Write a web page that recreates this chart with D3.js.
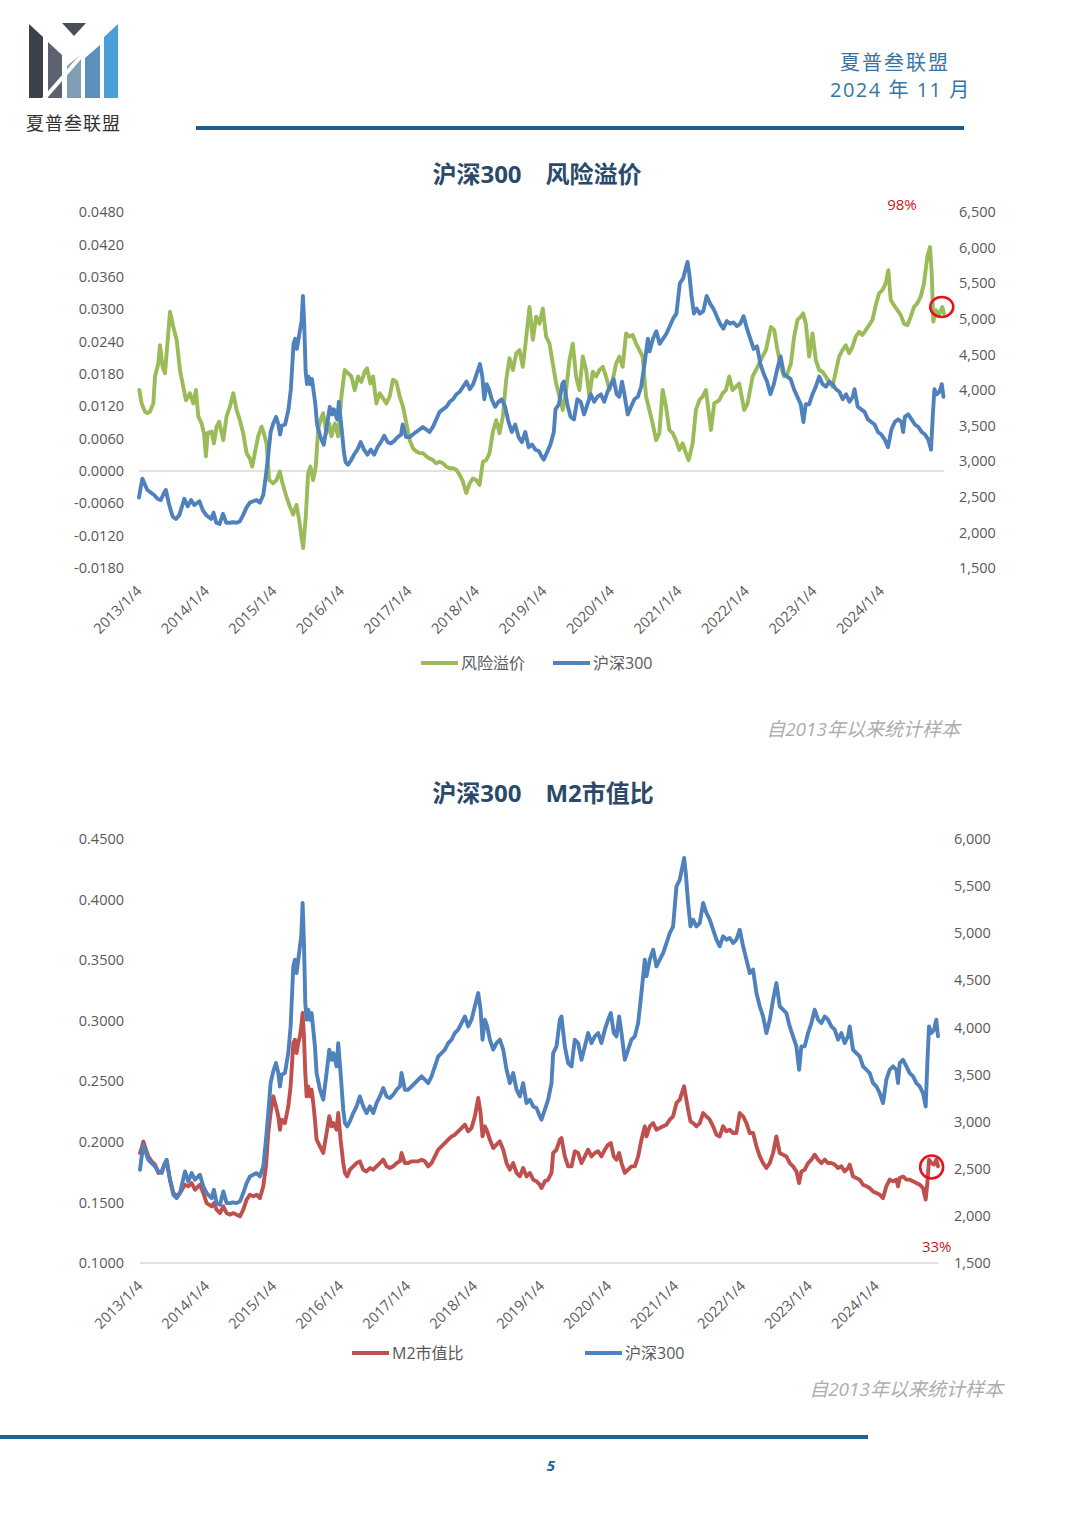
<!DOCTYPE html>
<html><head><meta charset="utf-8">
<script src="https://cdn.jsdelivr.net/npm/d3@7"></script>
<style>
html,body{margin:0;padding:0;background:#fff;}
svg{display:block;}
text{font-family:"Open Sans","Noto Sans CJK SC",sans-serif;}
</style></head><body>
<svg id="page" width="1080" height="1528"></svg>
<script>
// ---------------- DATA ----------------
const xTickYears = [2013.01,2014.01,2015.01,2016.01,2017.01,2018.01,2019.01,2020.01,2021.01,2022.01,2023.01,2024.01];
const xTickLabels = ["2013/1/4","2014/1/4","2015/1/4","2016/1/4","2017/1/4","2018/1/4","2019/1/4","2020/1/4","2021/1/4","2022/1/4","2023/1/4","2024/1/4"];

const premiumTicks = [-0.018,-0.012,-0.006,0,0.006,0.012,0.018,0.024,0.030,0.036,0.042,0.048];
const hsTicksTop = [1500,2000,2500,3000,3500,4000,4500,5000,5500,6000,6500];
const m2Ticks = [0.10,0.15,0.20,0.25,0.30,0.35,0.40,0.45];
const hsTicksBottom = [1500,2000,2500,3000,3500,4000,4500,5000,5500,6000];

// 风险溢价 (decimal year, value)
const premiumYears = [2013.015,2013.049,2013.099,2013.133,2013.173,2013.222,2013.247,2013.296,2013.321,2013.360,2013.395,2013.419,2013.469,2013.518,2013.567,2013.617,2013.666,2013.705,2013.764,2013.814,2013.853,2013.888,2013.937,2013.972,2014.001,2014.026,2014.085,2014.119,2014.159,2014.198,2014.258,2014.307,2014.356,2014.406,2014.455,2014.504,2014.553,2014.603,2014.652,2014.687,2014.726,2014.775,2014.825,2014.859,2014.899,2014.938,2014.997,2015.046,2015.096,2015.135,2015.194,2015.244,2015.293,2015.342,2015.382,2015.416,2015.441,2015.480,2015.515,2015.549,2015.589,2015.628,2015.663,2015.697,2015.737,2015.786,2015.826,2015.860,2015.909,2015.959,2016.008,2016.057,2016.107,2016.156,2016.205,2016.255,2016.304,2016.353,2016.388,2016.437,2016.477,2016.526,2016.575,2016.624,2016.674,2016.723,2016.772,2016.822,2016.871,2016.920,2016.970,2017.019,2017.068,2017.118,2017.167,2017.216,2017.266,2017.315,2017.364,2017.413,2017.463,2017.512,2017.561,2017.611,2017.660,2017.709,2017.759,2017.808,2017.857,2017.907,2017.956,2018.005,2018.054,2018.104,2018.153,2018.202,2018.252,2018.301,2018.350,2018.399,2018.449,2018.498,2018.547,2018.597,2018.646,2018.695,2018.735,2018.794,2018.843,2018.892,2018.942,2018.991,2019.040,2019.090,2019.139,2019.188,2019.238,2019.287,2019.336,2019.386,2019.435,2019.484,2019.533,2019.583,2019.632,2019.681,2019.731,2019.780,2019.829,2019.879,2019.928,2019.977,2020.027,2020.076,2020.125,2020.174,2020.224,2020.273,2020.322,2020.372,2020.421,2020.470,2020.520,2020.569,2020.618,2020.668,2020.717,2020.766,2020.816,2020.865,2020.914,2020.963,2021.013,2021.062,2021.111,2021.151,2021.210,2021.259,2021.309,2021.358,2021.407,2021.481,2021.530,2021.604,2021.654,2021.703,2021.752,2021.802,2021.851,2021.900,2021.974,2022.024,2022.098,2022.172,2022.245,2022.295,2022.369,2022.418,2022.467,2022.517,2022.566,2022.615,2022.665,2022.714,2022.763,2022.813,2022.847,2022.887,2022.936,2022.985,2023.034,2023.084,2023.133,2023.182,2023.232,2023.281,2023.330,2023.380,2023.429,2023.478,2023.528,2023.577,2023.626,2023.676,2023.725,2023.774,2023.823,2023.873,2023.922,2023.971,2024.021,2024.070,2024.109,2024.144,2024.193,2024.243,2024.292,2024.341,2024.391,2024.440,2024.489,2024.539,2024.588,2024.637,2024.686,2024.726,2024.751,2024.775,2024.810,2024.859,2024.908,2024.933];
const riskPremium = [0.0150,0.0125,0.0110,0.0107,0.0110,0.0125,0.0175,0.0199,0.0233,0.0193,0.0181,0.0218,0.0295,0.0267,0.0243,0.0187,0.0156,0.0131,0.0144,0.0125,0.0150,0.0101,0.0088,0.0070,0.0027,0.0070,0.0073,0.0051,0.0082,0.0091,0.0057,0.0101,0.0119,0.0144,0.0113,0.0094,0.0070,0.0033,0.0023,0.0008,0.0033,0.0064,0.0082,0.0070,0.0051,-0.0017,-0.0023,-0.0017,-0.0001,-0.0023,-0.0048,-0.0066,-0.0081,-0.0063,-0.0091,-0.0122,-0.0143,-0.0085,-0.0004,0.0008,-0.0017,0.0008,0.0076,0.0094,0.0107,0.0070,0.0088,0.0064,0.0088,0.0064,0.0138,0.0187,0.0181,0.0175,0.0150,0.0175,0.0165,0.0184,0.0190,0.0162,0.0175,0.0125,0.0144,0.0135,0.0125,0.0138,0.0169,0.0165,0.0138,0.0119,0.0088,0.0057,0.0042,0.0036,0.0033,0.0033,0.0027,0.0023,0.0020,0.0014,0.0017,0.0014,0.0008,0.0005,0.0005,0.0002,-0.0007,-0.0020,-0.0041,-0.0023,-0.0014,-0.0017,-0.0026,0.0017,0.0020,0.0033,0.0073,0.0094,0.0070,0.0101,0.0169,0.0209,0.0187,0.0218,0.0224,0.0193,0.0236,0.0304,0.0243,0.0286,0.0273,0.0301,0.0249,0.0236,0.0199,0.0162,0.0138,0.0113,0.0150,0.0206,0.0236,0.0175,0.0150,0.0212,0.0187,0.0138,0.0184,0.0175,0.0187,0.0193,0.0175,0.0150,0.0169,0.0199,0.0212,0.0193,0.0255,0.0249,0.0252,0.0236,0.0224,0.0212,0.0138,0.0113,0.0088,0.0057,0.0070,0.0150,0.0119,0.0076,0.0070,0.0057,0.0039,0.0051,0.0033,0.0020,0.0051,0.0113,0.0131,0.0138,0.0150,0.0076,0.0125,0.0131,0.0144,0.0150,0.0175,0.0150,0.0156,0.0162,0.0113,0.0125,0.0175,0.0193,0.0212,0.0224,0.0267,0.0261,0.0224,0.0193,0.0175,0.0181,0.0199,0.0249,0.0280,0.0286,0.0292,0.0273,0.0212,0.0255,0.0206,0.0187,0.0184,0.0175,0.0165,0.0156,0.0184,0.0212,0.0224,0.0233,0.0218,0.0230,0.0249,0.0258,0.0252,0.0261,0.0270,0.0280,0.0307,0.0329,0.0335,0.0348,0.0372,0.0317,0.0307,0.0298,0.0289,0.0273,0.0270,0.0286,0.0304,0.0311,0.0323,0.0348,0.0397,0.0415,0.0366,0.0277,0.0298,0.0289,0.0304,0.0292];

// 沪深300 and M2市值比 (shared decimal-year dates)
const hsYears = [2013.010,2013.035,2013.060,2013.100,2013.134,2013.184,2013.234,2013.284,2013.333,2013.383,2013.408,2013.458,2013.508,2013.557,2013.607,2013.682,2013.731,2013.781,2013.831,2013.905,2013.955,2014.005,2014.080,2014.114,2014.154,2014.204,2014.254,2014.303,2014.353,2014.403,2014.453,2014.503,2014.552,2014.602,2014.652,2014.701,2014.751,2014.801,2014.851,2014.891,2014.925,2014.960,2015.000,2015.040,2015.075,2015.100,2015.124,2015.174,2015.224,2015.259,2015.299,2015.323,2015.348,2015.373,2015.398,2015.418,2015.438,2015.458,2015.478,2015.498,2015.522,2015.547,2015.572,2015.597,2015.622,2015.647,2015.697,2015.746,2015.796,2015.836,2015.871,2015.896,2015.945,2015.970,2016.005,2016.045,2016.070,2016.104,2016.144,2016.194,2016.244,2016.293,2016.343,2016.393,2016.443,2016.493,2016.542,2016.592,2016.642,2016.692,2016.741,2016.791,2016.841,2016.891,2016.915,2016.965,2017.015,2017.065,2017.114,2017.164,2017.214,2017.264,2017.313,2017.363,2017.413,2017.463,2017.512,2017.562,2017.612,2017.662,2017.711,2017.761,2017.811,2017.861,2017.910,2017.960,2018.010,2018.060,2018.095,2018.124,2018.159,2018.194,2018.234,2018.284,2018.333,2018.383,2018.433,2018.483,2018.532,2018.582,2018.632,2018.682,2018.731,2018.781,2018.831,2018.881,2018.930,2018.980,2019.005,2019.055,2019.104,2019.154,2019.179,2019.229,2019.279,2019.303,2019.353,2019.403,2019.453,2019.502,2019.552,2019.602,2019.652,2019.701,2019.751,2019.801,2019.851,2019.900,2019.950,2020.000,2020.040,2020.084,2020.124,2020.164,2020.199,2020.249,2020.298,2020.348,2020.398,2020.448,2020.497,2020.547,2020.572,2020.622,2020.672,2020.721,2020.771,2020.821,2020.871,2020.920,2020.970,2021.020,2021.070,2021.109,2021.134,2021.159,2021.194,2021.229,2021.269,2021.318,2021.368,2021.418,2021.468,2021.517,2021.567,2021.617,2021.666,2021.716,2021.766,2021.816,2021.866,2021.915,2021.965,2022.015,2022.065,2022.114,2022.164,2022.214,2022.264,2022.313,2022.363,2022.413,2022.463,2022.512,2022.562,2022.612,2022.661,2022.711,2022.761,2022.811,2022.851,2022.885,2022.935,2022.985,2023.035,2023.084,2023.134,2023.184,2023.234,2023.283,2023.333,2023.383,2023.433,2023.482,2023.532,2023.582,2023.607,2023.656,2023.706,2023.756,2023.806,2023.856,2023.905,2023.955,2024.005,2024.055,2024.104,2024.154,2024.204,2024.254,2024.303,2024.328,2024.353,2024.403,2024.453,2024.502,2024.552,2024.602,2024.652,2024.701,2024.741,2024.766,2024.791,2024.826,2024.866,2024.900,2024.925];
const hs300 = [2490,2630,2755,2667,2596,2560,2525,2472,2454,2560,2596,2384,2224,2189,2242,2472,2366,2454,2384,2437,2313,2242,2189,2277,2136,2118,2260,2136,2136,2143,2136,2154,2242,2348,2419,2437,2454,2419,2525,2808,3091,3410,3534,3622,3516,3374,3498,3516,3728,4011,4648,4719,4577,4719,4861,4967,5321,4896,4259,4082,4188,4082,4153,3976,3799,3516,3339,3233,3516,3764,3657,3728,3587,3834,3516,3127,2985,2950,3003,3091,3162,3268,3162,3091,3162,3091,3197,3268,3357,3268,3250,3286,3339,3374,3516,3339,3339,3374,3410,3445,3481,3445,3410,3481,3587,3693,3728,3764,3834,3870,3941,3976,4047,4117,4011,4082,4224,4365,4188,3870,4082,4011,3870,3764,3834,3870,3764,3551,3410,3516,3339,3268,3410,3197,3233,3162,3144,3056,3021,3127,3233,3410,3728,3799,4082,4117,3799,3622,3587,3870,3834,3657,3799,3941,3834,3905,3941,3834,3976,4082,4153,3941,3905,4117,3941,3657,3764,3870,3905,4047,4365,4719,4542,4719,4825,4648,4719,4790,4896,5002,5073,5498,5568,5710,5798,5639,5321,5073,5144,5073,5108,5321,5214,5144,5037,4931,4861,4967,4931,4949,4896,4931,5037,4861,4719,4577,4613,4365,4224,4117,3941,4082,4294,4471,4224,4188,4153,4011,3905,3799,3551,3799,3799,3941,4047,4188,4082,4047,4117,4082,4011,3976,3870,3941,3834,3905,4011,3764,3728,3693,3587,3551,3516,3410,3374,3304,3197,3445,3551,3587,3551,3410,3622,3657,3587,3516,3481,3410,3374,3304,3162,3622,4011,3941,3976,4082,3905];
const m2Ratio = [0.1908,0.1949,0.2004,0.1935,0.1880,0.1839,0.1812,0.1743,0.1756,0.1825,0.1839,0.1688,0.1578,0.1550,0.1578,0.1646,0.1633,0.1660,0.1605,0.1646,0.1578,0.1495,0.1468,0.1495,0.1440,0.1412,0.1468,0.1412,0.1399,0.1412,0.1399,0.1385,0.1440,0.1523,0.1564,0.1550,0.1564,0.1536,0.1633,0.1798,0.2073,0.2238,0.2376,0.2293,0.2211,0.2100,0.2183,0.2155,0.2293,0.2458,0.2816,0.2843,0.2733,0.2816,0.2871,0.2954,0.3064,0.2871,0.2568,0.2376,0.2458,0.2376,0.2431,0.2321,0.2183,0.2018,0.1963,0.1908,0.2073,0.2211,0.2128,0.2155,0.2100,0.2238,0.2018,0.1825,0.1743,0.1715,0.1770,0.1798,0.1825,0.1839,0.1770,0.1756,0.1784,0.1770,0.1798,0.1825,0.1853,0.1798,0.1784,0.1798,0.1825,0.1839,0.1908,0.1825,0.1825,0.1839,0.1839,0.1839,0.1853,0.1839,0.1798,0.1825,0.1880,0.1935,0.1963,0.1990,0.2018,0.2045,0.2059,0.2087,0.2114,0.2142,0.2087,0.2114,0.2211,0.2362,0.2238,0.2045,0.2128,0.2087,0.2018,0.1949,0.1977,0.2004,0.1935,0.1825,0.1770,0.1825,0.1743,0.1715,0.1784,0.1715,0.1743,0.1688,0.1674,0.1646,0.1619,0.1674,0.1688,0.1743,0.1908,0.1935,0.2018,0.2032,0.1880,0.1798,0.1798,0.1922,0.1908,0.1825,0.1880,0.1935,0.1880,0.1908,0.1922,0.1880,0.1935,0.1977,0.1990,0.1880,0.1853,0.1908,0.1825,0.1743,0.1770,0.1798,0.1798,0.1880,0.2018,0.2128,0.2045,0.2128,0.2155,0.2100,0.2114,0.2128,0.2142,0.2183,0.2211,0.2321,0.2348,0.2417,0.2458,0.2376,0.2266,0.2169,0.2155,0.2128,0.2155,0.2238,0.2211,0.2183,0.2128,0.2059,0.2045,0.2128,0.2087,0.2100,0.2073,0.2073,0.2238,0.2211,0.2155,0.2073,0.2073,0.1963,0.1880,0.1825,0.1784,0.1825,0.1908,0.2045,0.1908,0.1894,0.1880,0.1825,0.1798,0.1756,0.1660,0.1756,0.1770,0.1825,0.1853,0.1894,0.1853,0.1825,0.1853,0.1825,0.1825,0.1812,0.1784,0.1798,0.1756,0.1784,0.1812,0.1715,0.1701,0.1688,0.1646,0.1633,0.1619,0.1591,0.1578,0.1564,0.1536,0.1633,0.1688,0.1674,0.1688,0.1633,0.1701,0.1715,0.1688,0.1688,0.1674,0.1660,0.1646,0.1619,0.1523,0.1660,0.1853,0.1825,0.1812,0.1853,0.1798];

// annotations (data coordinates)
const premiumMark = { year: 2024.90, value: 0.0304, label: "98%", labelYear: 2024.31, labelValue: 0.0493 };
const m2Mark = { year: 2024.83, value: 0.1792, label: "33%", labelYear: 2024.905, labelValue: 0.1132 };

// ---------------- DRAWING ----------------
const svg = d3.select("#page");
const loc = d3.formatLocale({decimal:".", thousands:",", grouping:[3], currency:["",""], minus:"-"});
const fmt4 = loc.format(".4f"), fmtK = loc.format(",");
const GRAY = "#595959";

svg.append("rect").attr("width",1080).attr("height",1528).attr("fill","#fff");

// ---- header / logo ----
const logo = svg.append("g");
const logoShapes = [
  {pts:[[29,24],[43,37],[43,98],[29,98]], fill:"#3c404b"},
  {pts:[[48,42],[62,55],[62,98],[48,98]], fill:"#5c6270"},
  {pts:[[62,23],[86,23],[74,36]], fill:"#4a4e59"},
  {pts:[[67,66],[81,54],[81,98],[67,98]], fill:"#7f9db4"},
  {pts:[[85,58],[100,45],[100,98],[85,98]], fill:"#5d8fbb"},
  {pts:[[104,37],[118,24],[118,98],[104,98]], fill:"#4a9fd9"}
];
logo.selectAll("polygon").data(logoShapes).join("polygon")
  .attr("points", d => d.pts.map(p => p.join(",")).join(" "))
  .attr("fill", d => d.fill);
logo.append("line").attr("x1",42).attr("y1",101).attr("x2",104).attr("y2",30)
  .attr("stroke","#fff").attr("stroke-width",4);
logo.append("text").attr("x",26).attr("y",130).attr("font-size",18).attr("letter-spacing",1)
  .attr("fill","#333").attr("font-family","Noto Sans CJK SC").text("夏普叁联盟");

svg.append("text").attr("x",840).attr("y",70).attr("font-size",20).attr("letter-spacing",2)
  .attr("fill","#3575a3").attr("font-family","Noto Sans CJK SC").text("夏普叁联盟");
svg.append("text").attr("x",830).attr("y",97).attr("font-size",20).attr("letter-spacing",1.5)
  .attr("fill","#3575a3").text("2024 年 11 月");
svg.append("line").attr("x1",196).attr("x2",964).attr("y1",128).attr("y2",128)
  .attr("stroke","#1e5d8c").attr("stroke-width",4);

// ---- footer ----
svg.append("line").attr("x1",0).attr("x2",868).attr("y1",1437).attr("y2",1437)
  .attr("stroke","#1f6591").attr("stroke-width",4);
svg.append("text").attr("x",551).attr("y",1471).attr("text-anchor","middle").attr("font-size",15)
  .attr("font-weight","bold").attr("font-style","italic").attr("fill","#1f6591").text("5");

// ---- chart builder ----
function drawChart(c) {
  const allYears = c.series.flatMap(s => s.years);
  const x = d3.scaleLinear().domain(d3.extent(allYears)).range(c.xRange);
  const yL = d3.scaleLinear().domain(c.leftDomain).range([c.bottom, c.top]);
  const yR = d3.scaleLinear().domain(c.rightDomain).range([c.bottom, c.top]);
  const g = svg.append("g");

  // title
  g.append("text").attr("x", c.titleX).attr("y", c.titleY).attr("text-anchor","middle")
    .attr("font-size",24).attr("font-weight","bold").attr("fill","#2b4a6a")
    .attr("font-family","Noto Sans CJK SC").text(c.title);

  // baseline
  g.append("line").attr("x1", c.xRange[0]).attr("x2", c.xRange[1])
    .attr("y1", yL(c.baseValue)).attr("y2", yL(c.baseValue))
    .attr("stroke","#d9d9d9").attr("stroke-width",1.5);

  // left axis
  const axL = g.append("g").attr("transform",`translate(${c.leftLabelX},0)`)
    .call(d3.axisLeft(yL).tickValues(c.leftTicks).tickFormat(fmt4).tickSize(0).tickPadding(0));
  // right axis
  const axR = g.append("g").attr("transform",`translate(${c.rightLabelX},0)`)
    .call(d3.axisRight(yR).tickValues(c.rightTicks).tickFormat(fmtK).tickSize(0).tickPadding(0));
  // x axis labels
  const axX = g.append("g").attr("transform",`translate(0,${c.xLabelY})`)
    .call(d3.axisBottom(x).tickValues(xTickYears).tickFormat((d,i) => xTickLabels[i]).tickSize(0).tickPadding(0));
  axX.selectAll(".tick text").attr("text-anchor","end").attr("dy",0).attr("y",0)
    .attr("transform","translate(3,0) rotate(-45)").attr("font-size",14.5);
  [axL, axR, axX].forEach(a => {
    a.select(".domain").remove();
    a.attr("font-family",null);
    a.selectAll("text").attr("fill",GRAY);
  });
  axL.selectAll("text").attr("font-size",14.5);
  axR.selectAll("text").attr("font-size",14.5);

  // series
  c.series.forEach(s => {
    const y = s.axis === "left" ? yL : yR;
    const line = d3.line().x(d => x(d[0])).y(d => y(d[1]));
    g.append("path").datum(d3.zip(s.years, s.values))
      .attr("d", line).attr("fill","none").attr("stroke", s.color)
      .attr("stroke-width",3.9).attr("stroke-linejoin","round").attr("stroke-linecap","round");
  });

  // annotation
  const m = c.mark;
  g.append("ellipse").attr("cx", x(m.year)).attr("cy", yL(m.value)).attr("rx", c.markR[0]).attr("ry", c.markR[1])
    .attr("fill","none").attr("stroke","#e3141b").attr("stroke-width",2.6);
  g.append("text").attr("x", x(m.labelYear)).attr("y", yL(m.labelValue)).attr("dy","0.35em")
    .attr("text-anchor","middle").attr("font-size",15).attr("fill","#c8161d").text(m.label);

  // legend
  c.legend.forEach(l => {
    g.append("line").attr("x1", l.x).attr("x2", l.x + 37).attr("y1", c.legendY).attr("y2", c.legendY)
      .attr("stroke", l.color).attr("stroke-width",4);
    g.append("text").attr("x", l.x + 40).attr("y", c.legendY).attr("dy","0.36em")
      .attr("font-size",16).attr("fill",GRAY).text(l.name);
  });

  // note
  g.append("text").attr("x", c.noteX).attr("y", c.noteY).attr("text-anchor","end")
    .attr("font-size",19).attr("font-style","italic").attr("fill","#adadad").text("自2013年以来统计样本");
}

drawChart({
  title: "沪深300\u3000风险溢价", titleX: 537, titleY: 183,
  top: 212, bottom: 568, xRange: [139, 944],
  leftDomain: [-0.018, 0.048], rightDomain: [1500, 6500],
  leftTicks: premiumTicks, rightTicks: hsTicksTop, baseValue: 0,
  leftLabelX: 124, rightLabelX: 959, xLabelY: 592,
  series: [
    {years: premiumYears, values: riskPremium, axis: "left", color: "#9bbb59"},
    {years: hsYears, values: hs300, axis: "right", color: "#4f81bd"}
  ],
  mark: premiumMark, markR: [11.5, 10],
  legendY: 663,
  legend: [{name:"风险溢价", color:"#9bbb59", x:421}, {name:"沪深300", color:"#4f81bd", x:553}],
  noteX: 960, noteY: 736
});

drawChart({
  title: "沪深300\u3000M2市值比", titleX: 543, titleY: 802,
  top: 839, bottom: 1263, xRange: [140, 938],
  leftDomain: [0.10, 0.45], rightDomain: [1500, 6000],
  leftTicks: m2Ticks, rightTicks: hsTicksBottom, baseValue: 0.10,
  leftLabelX: 124, rightLabelX: 954, xLabelY: 1287,
  series: [
    {years: hsYears, values: m2Ratio, axis: "left", color: "#c0504d"},
    {years: hsYears, values: hs300, axis: "right", color: "#4f81bd"}
  ],
  mark: m2Mark, markR: [11.5, 11.5],
  legendY: 1353,
  legend: [{name:"M2市值比", color:"#c0504d", x:352}, {name:"沪深300", color:"#4f81bd", x:585}],
  noteX: 1003, noteY: 1396
});
</script></body></html>
